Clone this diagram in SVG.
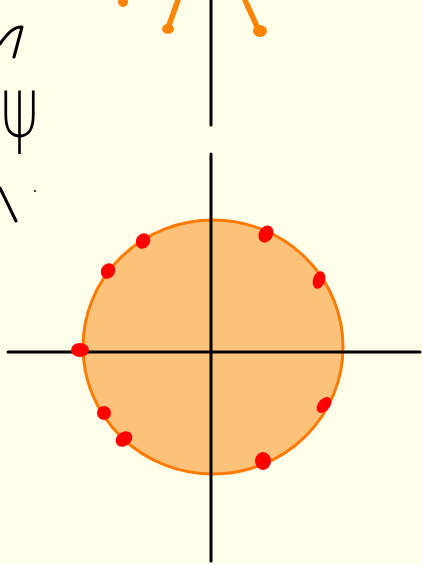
<svg xmlns="http://www.w3.org/2000/svg" width="422" height="564" viewBox="0 0 422 564">
<style>
.ax{stroke:#000;stroke-width:3;stroke-linecap:round;fill:none}
.ink{stroke:#000;stroke-width:3;stroke-linecap:round;stroke-linejoin:round;fill:none}
.or{stroke:#ff8400;stroke-width:5.5;stroke-linecap:round;fill:none}
.dot{fill:#ff0000}
</style>
<rect width="422" height="564" fill="#fffeea"/>
<g id="disk">
<ellipse cx="213" cy="347" rx="130" ry="127" fill="#fdc27a" stroke="#ff7a00" stroke-width="3"/>
</g>
<g id="connectors">
<line class="ax" x1="211" y1="0" x2="211" y2="125"/>
<line class="ax" x1="211" y1="154" x2="211" y2="561"/>
<line class="ax" x1="8" y1="352" x2="420" y2="352"/>
<path class="or" d="M178,0 L168,28"/>
<path class="or" d="M245,0 L259,31"/>
<path class="ink" d="M0,44 Q12,26 22,27 L14,57"/>
<path class="ink" d="M0,188 L16,221"/>
</g>
<g id="orange-ends">
<circle cx="123" cy="2" r="5" fill="#ff8400"/>
<ellipse cx="168" cy="29" rx="6" ry="5" fill="#ff8400"/>
<ellipse cx="260" cy="31" rx="7" ry="6" fill="#ff8400"/>
</g>
<g id="dots">
<ellipse class="dot" cx="143" cy="241" rx="7" ry="8" transform="rotate(30 143 241)"/>
<ellipse class="dot" cx="108" cy="271" rx="7" ry="8" transform="rotate(30 108 271)"/>
<ellipse class="dot" cx="80" cy="350" rx="9" ry="7"/>
<ellipse class="dot" cx="104" cy="413" rx="7" ry="7"/>
<ellipse class="dot" cx="124" cy="439" rx="9" ry="7" transform="rotate(-35 124 439)"/>
<ellipse class="dot" cx="266" cy="234" rx="7" ry="9" transform="rotate(30 266 234)"/>
<ellipse class="dot" cx="319" cy="280" rx="6" ry="9" transform="rotate(20 319 280)"/>
<ellipse class="dot" cx="324" cy="405" rx="6" ry="9" transform="rotate(40 324 405)"/>
<ellipse class="dot" cx="263" cy="461" rx="8" ry="9"/>
</g>
<g id="psi">
<text transform="translate(0,137) scale(1.1,1.56)" font-family="DejaVu Sans, sans-serif" font-weight="200" font-size="54" fill="#000">ψ</text>
</g>
<circle cx="35" cy="191" r="1" fill="#000"/>
</svg>
